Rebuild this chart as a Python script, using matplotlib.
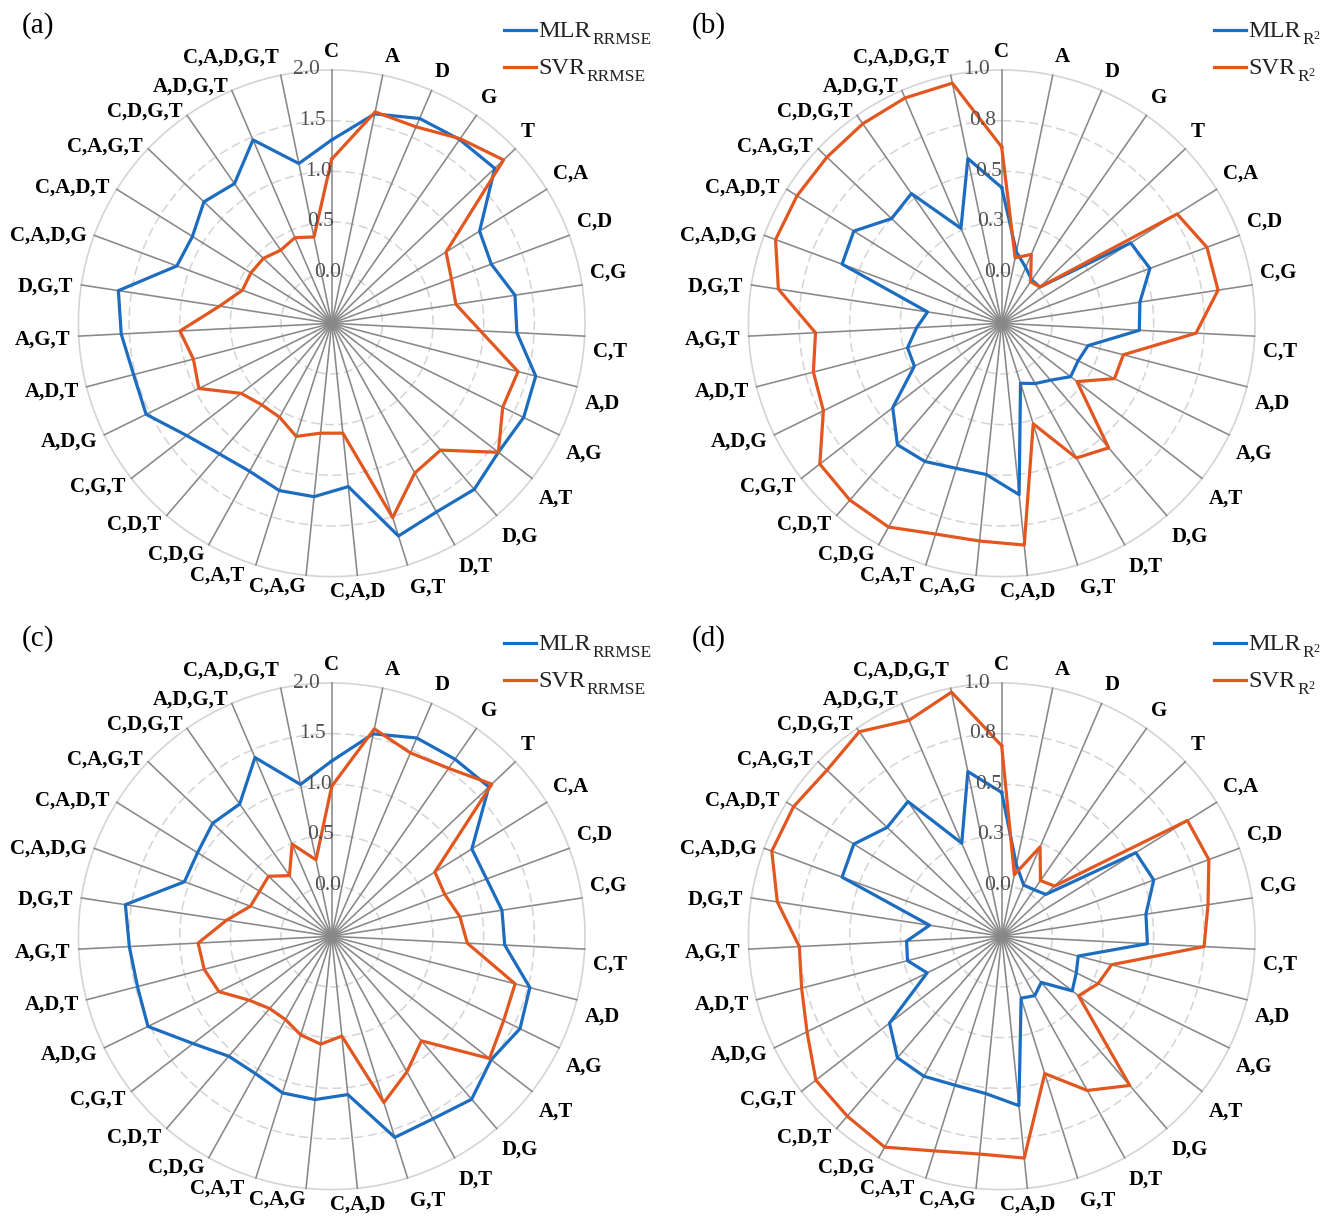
import numpy as np
import matplotlib
matplotlib.use("Agg")
import matplotlib.pyplot as plt
from matplotlib.lines import Line2D

plt.rcParams["font.family"] = "Liberation Serif"
plt.rcParams["mathtext.fontset"] = "custom"
plt.rcParams["mathtext.rm"] = "Liberation Serif"
plt.rcParams["mathtext.it"] = "Liberation Serif:italic"
plt.rcParams["mathtext.bf"] = "Liberation Serif:bold"

categories = ["C", "A", "D", "G", "T",
              "C,A", "C,D", "C,G", "C,T", "A,D", "A,G", "A,T", "D,G", "D,T", "G,T",
              "C,A,D", "C,A,G", "C,A,T", "C,D,G", "C,D,T", "C,G,T", "A,D,G", "A,D,T", "A,G,T", "D,G,T",
              "C,A,D,G", "C,A,D,T", "C,A,G,T", "C,D,G,T", "A,D,G,T", "C,A,D,G,T"]

# (a) RRMSE
mlr_rrmse_a = [1.31, 1.61, 1.70, 1.71, 1.72, 1.22, 1.18, 1.33, 1.33, 1.58, 1.61, 1.58, 1.66, 1.63, 1.70,
               1.12, 1.22, 1.23, 1.17, 1.20, 1.31, 1.54, 1.52, 1.58, 1.63, 1.13, 1.12, 1.24, 1.18, 1.47, 1.11]
svr_rrmse_a = [1.12, 1.63, 1.61, 1.72, 1.84, 0.83, 0.76, 0.74, 0.97, 1.40, 1.38, 1.58, 1.15, 1.19, 1.51,
               0.59, 0.59, 0.67, 0.56, 0.56, 0.63, 0.96, 0.91, 1.00, 0.62, 0.44, 0.44, 0.43, 0.38, 0.42, 0.37]

# (b) R2
mlr_r2_b = [0.42, 0.11, 0.05, 0.01, 0.01, 0.50, 0.53, 0.44, 0.43, 0.19, 0.17, 0.18, 0.12, 0.09, 0.06,
            0.60, 0.50, 0.50, 0.53, 0.54, 0.43, 0.23, 0.23, 0.17, 0.12, 0.59, 0.61, 0.50, 0.53, 0.26, 0.58]
svr_r2_b = [0.62, 0.08, 0.12, 0.00, 0.01, 0.77, 0.83, 0.83, 0.71, 0.37, 0.37, 0.22, 0.56, 0.51, 0.27,
            0.85, 0.83, 0.84, 0.90, 0.90, 0.885, 0.73, 0.71, 0.67, 0.865, 0.94, 0.94, 0.94, 0.95, 0.96, 0.96]

# (c) RRMSE
mlr_rrmse_c = [1.23, 1.54, 1.63, 1.63, 1.64, 1.13, 1.13, 1.20, 1.21, 1.52, 1.57, 1.49, 1.62, 1.56, 1.58,
               1.07, 1.12, 1.12, 1.05, 1.06, 1.23, 1.52, 1.48, 1.50, 1.56, 1.05, 1.06, 1.12, 1.09, 1.42, 1.03]
svr_rrmse_c = [0.98, 1.59, 1.47, 1.52, 1.68, 0.70, 0.69, 0.78, 0.84, 1.37, 1.39, 1.47, 0.86, 1.03, 1.22,
               0.49, 0.57, 0.52, 0.44, 0.44, 0.53, 0.74, 0.80, 0.82, 0.55, 0.355, 0.34, 0.36, 0.23, 0.49, 0.27]

# (d) R2
mlr_r2_d = [0.46, 0.11, 0.025, 0.03, 0.05, 0.53, 0.55, 0.47, 0.47, 0.14, 0.16, 0.19, 0.05, 0.085, 0.07,
            0.59, 0.53, 0.52, 0.54, 0.54, 0.45, 0.16, 0.23, 0.22, 0.11, 0.59, 0.61, 0.53, 0.56, 0.25, 0.58]
svr_r2_d = [0.69, 0.06, 0.23, 0.085, 0.11, 0.83, 0.84, 0.78, 0.75, 0.31, 0.28, 0.23, 0.72, 0.62, 0.46,
            0.85, 0.83, 0.86, 0.94, 0.92, 0.91, 0.82, 0.77, 0.75, 0.87, 0.96, 0.96, 0.94, 0.98, 0.91, 0.98]

rrmse_ticks = [0.0, 0.5, 1.0, 1.5, 2.0]
rrmse_ticklabels = ["0.0", "0.5", "1.0", "1.5", "2.0"]
r2_ticks = [0.0, 0.25, 0.5, 0.75, 1.0]
r2_ticklabels = ["0.0", "0.3", "0.5", "0.8", "1.0"]

BLUE = "#1c6cc0"
ORANGE = "#e2561f"
SPOKE = "#888888"
RING = "#d4d4d4"

W, H = 1333, 1216
R = 253.3
fig = plt.figure(figsize=(W / 100, H / 100), dpi=100)
fig.patch.set_facecolor("white")

n = len(categories)
theta = 2 * np.pi * np.arange(n) / n
circle = np.linspace(0, 2 * np.pi, 400)
tick_dx = [-4, -11, -13, -19, -25]
legend_mains = []


def label_layout(ang, gap=8):
    """Offset (pixels) and alignment for a category label sitting off the rim."""
    c, s = np.cos(ang), np.sin(ang)
    dx = 0
    if abs(c) < 0.02:
        ha = "center"
    elif c < 0:
        ha = "right"
        if s < 0 and c > -0.35:
            dx = -9  # keep clear of the bottom-centre neighbour
    elif c >= 0.15:
        ha = "left"
    else:
        ha = "center"
    if s > 0.95:
        va, dy = "bottom", 0
    elif ha == "center":
        va, dy = "center", -8
    elif c > 0.02:
        va, dy = "center", (11 if s > 0 else -15)
    else:
        va, dy = "center", -3
    if dx and s < -0.99:
        dx = 0
    return (gap * c + dx, gap * s + dy), ha, va


def radar(cx, cy, mlr, svr, rmin, ticks, ticklabels, tag, sub, legend_dx):
    rmax = ticks[-1]
    ax = fig.add_axes([(cx - R) / W, 1 - (cy + R) / H, 2 * R / W, 2 * R / H], projection="polar")
    ax.set_theta_offset(np.pi / 2)
    ax.set_theta_direction(-1)
    ax.axis("off")
    ax.set_ylim(rmin, rmax)

    for t in ticks[:-1]:
        ax.plot(circle, np.full_like(circle, t), color=RING, lw=1.1, ls=(0, (6, 3)), zorder=1)
    ax.plot(circle, np.full_like(circle, rmax), color=RING, lw=1.2, zorder=1, clip_on=False)
    for th in theta:
        ax.plot([th, th], [rmin, rmax], color=SPOKE, lw=1.15, zorder=2, clip_on=False)

    th_closed = np.append(theta, theta[0])
    ax.plot(th_closed, np.append(mlr, mlr[0]), color=BLUE, lw=2.3, zorder=4, clip_on=False)
    ax.plot(th_closed, np.append(svr, svr[0]), color=ORANGE, lw=2.3, zorder=5, clip_on=False)

    for t, lbl, dx in zip(ticks, ticklabels, tick_dx):
        ax.annotate(lbl, xy=(0, t), xytext=(dx, 0), textcoords="offset pixels",
                    ha="center", va="center", fontsize=15.5, color="#505050", zorder=6)

    for th, lbl in zip(theta, categories):
        offset, ha, va = label_layout(np.pi / 2 - th)
        ax.annotate(lbl, xy=(th, rmax), xytext=offset, textcoords="offset pixels",
                    ha=ha, va=va, fontsize=15, fontweight="bold",
                    color="black", annotation_clip=False)

    fig.text((cx - 310) / W, 1 - (cy - 298) / H, tag, fontsize=21, ha="left", va="center")

    lx = cx + legend_dx
    for k, (name, col) in enumerate([("MLR", BLUE), ("SVR", ORANGE)]):
        ly = cy - 293 + 37 * k
        fig.add_artist(Line2D([lx / W, (lx + 32) / W], [1 - ly / H, 1 - ly / H],
                              transform=fig.transFigure, color=col, lw=2.3))
        base = ly + 7
        t = fig.text((lx + 35) / W, 1 - base / H, name, fontsize=17.5,
                     ha="left", va="baseline", color="#222222")
        legend_mains.append((t, sub, base))


radar(331.7, 323.3, mlr_rrmse_a, svr_rrmse_a, -0.5, rrmse_ticks, rrmse_ticklabels, "(a)",
      "RRMSE", 172)
radar(1001.7, 323.3, mlr_r2_b, svr_r2_b, -0.25, r2_ticks, r2_ticklabels, "(b)",
      r"R$^{2}$", 212)
radar(331.7, 936.3, mlr_rrmse_c, svr_rrmse_c, -0.5, rrmse_ticks, rrmse_ticklabels, "(c)",
      "RRMSE", 172)
radar(1001.7, 936.3, mlr_r2_d, svr_r2_d, -0.25, r2_ticks, r2_ticklabels, "(d)",
      r"R$^{2}$", 212)

# subscripts go right after the measured model name
fig.canvas.draw()
renderer = fig.canvas.get_renderer()
for t, sub, base in legend_mains:
    bb = t.get_window_extent(renderer)
    fig.text((bb.x1 + 1) / W, 1 - (base + 7) / H, sub, fontsize=12.5,
             ha="left", va="baseline", color="#222222")

fig.savefig("out.png", dpi=100, facecolor="white")
